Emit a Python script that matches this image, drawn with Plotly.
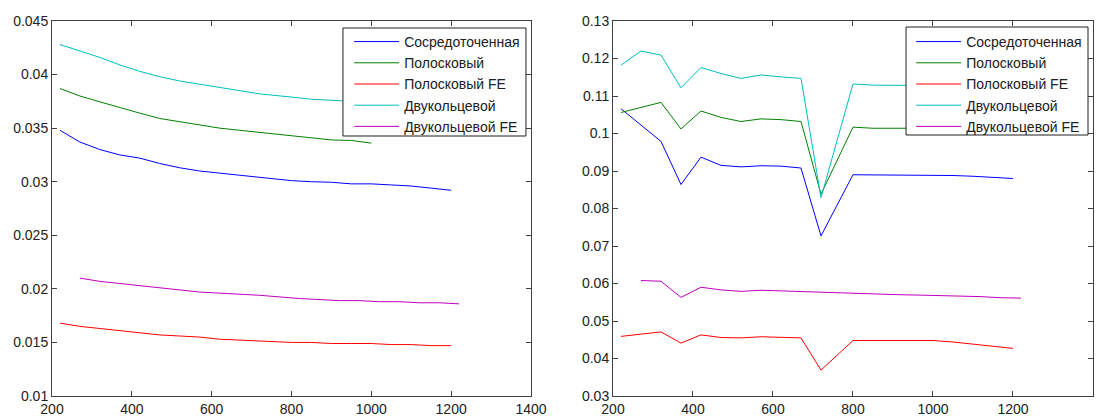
import plotly.graph_objects as go
from plotly.subplots import make_subplots

names = ["Сосредоточенная", "Полосковый", "Полосковый FE", "Двукольцевой", "Двукольцевой FE"]
colors = ["#0000ff", "#008000", "#ff0000", "#00bfbf", "#bf00bf"]

x_main = [220, 270, 320, 370, 420, 470, 520, 570, 620, 670, 720, 800, 850, 900, 950, 1000, 1050, 1100, 1150, 1200]
x_short = [220, 270, 320, 370, 420, 470, 520, 570, 620, 670, 720, 800, 850, 900, 950, 1000]
x_fe2 = [270, 320, 370, 420, 470, 520, 570, 620, 670, 720, 820, 870, 920, 970, 1020, 1070, 1120, 1170, 1220]

# Left chart
left_conc = [0.0348, 0.0337, 0.0330, 0.0325, 0.0322, 0.0317, 0.0313, 0.0310, 0.0308, 0.0306, 0.0304,
             0.0301, 0.0300, 0.02995, 0.0298, 0.0298, 0.0297, 0.0296, 0.0294, 0.0292]
left_strip = [0.0387, 0.0380, 0.03745, 0.0369, 0.0364, 0.0359, 0.0356, 0.0353, 0.0350, 0.0348, 0.0346,
              0.03425, 0.0341, 0.0339, 0.03385, 0.0336]
left_strip_fe = [0.0168, 0.0165, 0.0163, 0.0161, 0.0159, 0.0157, 0.0156, 0.0155, 0.0153, 0.0152, 0.0151,
                 0.0150, 0.0150, 0.0149, 0.0149, 0.0149, 0.0148, 0.0148, 0.0147, 0.0147]
left_ring = [0.0428, 0.0422, 0.0416, 0.0409, 0.0403, 0.0398, 0.0394, 0.0391, 0.0388, 0.0385, 0.0382,
             0.0379, 0.0377, 0.0376, 0.0375, 0.0374]
left_ring_fe = [0.0210, 0.0207, 0.0205, 0.0203, 0.0201, 0.0199, 0.0197, 0.0196, 0.0195, 0.0194,
                0.0191, 0.0190, 0.0189, 0.0189, 0.0188, 0.0188, 0.0187, 0.0187, 0.0186]

# Right chart
right_conc = [0.1066, 0.1023, 0.0979, 0.0864, 0.0937, 0.0915, 0.0911, 0.0914, 0.0913, 0.0908, 0.0727,
              0.0890, 0.0890, 0.0890, 0.0890, 0.0890, 0.0888, 0.0886, 0.0883, 0.0880]
right_strip = [0.1056, 0.1070, 0.1083, 0.1012, 0.1060, 0.1043, 0.1032, 0.1039, 0.1037, 0.1032, 0.0838,
               0.1017, 0.1014, 0.1014, 0.1014, 0.1014]
right_strip_fe = [0.0459, 0.0464, 0.0471, 0.0441, 0.0463, 0.0456, 0.0455, 0.0458, 0.0456, 0.0455, 0.0369,
                  0.0448, 0.0448, 0.0448, 0.0448, 0.0448, 0.0444, 0.0439, 0.0434, 0.0427]
right_ring = [0.1182, 0.1220, 0.1209, 0.1122, 0.1176, 0.1160, 0.1147, 0.1156, 0.1151, 0.1147, 0.0829,
              0.1132, 0.1129, 0.1128, 0.1128, 0.1128]
right_ring_fe = [0.0608, 0.0606, 0.0563, 0.0590, 0.0583, 0.0579, 0.0582, 0.0580, 0.0580, 0.0577,
                 0.0572, 0.0571, 0.0570, 0.0569, 0.0568, 0.0566, 0.0565, 0.0562, 0.0561]

left_x = [x_main, x_short, x_main, x_short, x_fe2]
left_y = [left_conc, left_strip, left_strip_fe, left_ring, left_ring_fe]
right_x = [x_main, x_short, x_main, x_short, x_fe2]
right_y = [right_conc, right_strip, right_strip_fe, right_ring, right_ring_fe]

fig = make_subplots(rows=1, cols=2, horizontal_spacing=0.0778)

for i in range(5):
    fig.add_trace(go.Scatter(x=left_x[i], y=left_y[i], mode="lines", name=names[i],
                             line=dict(color=colors[i], width=1), legend="legend"), row=1, col=1)
for i in range(5):
    fig.add_trace(go.Scatter(x=right_x[i], y=right_y[i], mode="lines", name=names[i],
                             line=dict(color=colors[i], width=1), legend="legend2"), row=1, col=2)

axis_style = dict(showline=True, linecolor="#404040", linewidth=1, mirror="ticks", ticks="inside",
                  ticklen=5, tickcolor="#404040", showgrid=False, zeroline=False, automargin=False,
                  tickfont=dict(family="Liberation Sans, Arial", size=14, color="#222222"))

fig.update_xaxes(range=[200, 1400], dtick=200, tick0=200, **axis_style)
fig.update_yaxes(**axis_style)
fig.update_yaxes(range=[0.01, 0.045], dtick=0.005, tick0=0.01, row=1, col=1)
fig.update_yaxes(range=[0.03, 0.13], dtick=0.01, tick0=0.03, row=1, col=2)
fig.update_xaxes(domain=[0, 0.4601], row=1, col=1)
fig.update_xaxes(domain=[0.5389, 1.0], row=1, col=2)

# legend boxes (drawn as shapes for exact frame size)
box_style = dict(type="rect", xref="paper", yref="paper", fillcolor="white",
                 line=dict(color="#202020", width=1), layer="above")
fig.add_shape(x0=0.2795, x1=0.4553, y0=0.6933, y1=0.9813, **box_style)
fig.add_shape(x0=0.8204, x1=0.9952, y0=0.6960, y1=0.9840, **box_style)

legend_style = dict(bgcolor="rgba(0,0,0,0)", borderwidth=0,
                    font=dict(family="Liberation Sans, Arial", size=14, color="#202020"),
                    yanchor="top", xanchor="right", tracegroupgap=0, itemwidth=45)

fig.update_layout(
    width=1108, height=416,
    margin=dict(l=52, r=15, t=21, b=20, autoexpand=False),
    paper_bgcolor="white", plot_bgcolor="white",
    showlegend=True,
    legend=dict(x=0.4545, y=0.9867, **legend_style),
    legend2=dict(x=0.9944, y=0.9867, **legend_style),
)

fig.write_html("out.html", config={"displayModeBar": False},
               post_script="document.body.style.margin='0px';")
